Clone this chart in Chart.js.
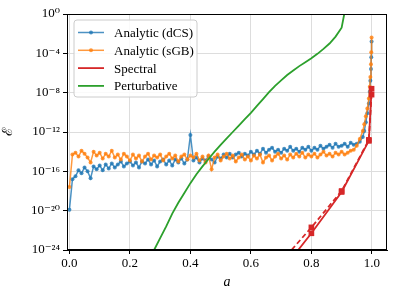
<!DOCTYPE html>
<html>
<head>
<meta charset="utf-8">
<script src="https://cdn.jsdelivr.net/npm/chart.js"></script>
<style>
body { margin: 0; background: #fff; }
#wrap { width: 396px; height: 297px; }
</style>
</head>
<body>
<div id="wrap"><canvas id="chart"></canvas></div>
<script>
// spin a values shared by both analytic runs
const aGrid = [0.00,0.01,0.02,0.03,0.04,0.05,0.06,0.07,0.08,0.09,
  0.10,0.11,0.12,0.13,0.14,0.15,0.16,0.17,0.18,0.19,
  0.20,0.21,0.22,0.23,0.24,0.25,0.26,0.27,0.28,0.29,
  0.30,0.31,0.32,0.33,0.34,0.35,0.36,0.37,0.38,0.39,
  0.40,0.41,0.42,0.43,0.44,0.45,0.46,0.47,0.48,0.49,
  0.50,0.51,0.52,0.53,0.54,0.55,0.56,0.57,0.58,0.59,
  0.60,0.61,0.62,0.63,0.64,0.65,0.66,0.67,0.68,0.69,
  0.70,0.71,0.72,0.73,0.74,0.75,0.76,0.77,0.78,0.79,
  0.80,0.81,0.82,0.83,0.84,0.85,0.86,0.87,0.88,0.89,
  0.90,0.91,0.92,0.93,0.94,0.95,0.96,0.97,0.975,0.98,
  0.985,0.99,0.993,0.995,0.997,0.998,0.999];

// log10 of the error
const dcsLog = [-19.9,-16.8,-16.5,-15.9,-16.2,-15.6,-16.0,-16.7,-15.5,-15.8,
  -15.4,-15.9,-15.3,-15.7,-15.2,-15.6,-15.3,-15.0,-15.5,-15.2,
  -15.0,-15.4,-15.1,-15.6,-15.0,-15.2,-14.8,-15.3,-14.9,-15.5,
  -15.0,-14.8,-15.3,-14.9,-15.4,-14.8,-15.1,-14.7,-15.2,-14.8,
  -12.3,-14.9,-14.6,-15.1,-14.7,-14.9,-14.5,-14.8,-15.1,-14.5,
  -14.7,-14.3,-14.6,-14.2,-14.6,-14.3,-14.1,-14.5,-14.2,-14.4,
  -14.0,-14.3,-13.9,-14.2,-13.7,-14.1,-13.8,-13.6,-14.0,-13.8,
  -14.1,-13.7,-13.9,-13.5,-13.9,-13.7,-14.0,-13.6,-13.8,-13.5,
  -13.9,-13.6,-13.8,-13.4,-13.7,-13.5,-13.3,-13.6,-13.2,-13.5,
  -13.4,-13.2,-13.5,-13.1,-13.3,-13.2,-13.0,-12.5,-11.9,-11.0,
  -10.1,-9.1,-7.9,-6.8,-5.6,-4.4,-2.8];

const sgbLog = [-17.6,-14.3,-14.1,-14.5,-13.9,-14.2,-14.6,-15.1,-14.0,-14.4,
  -14.1,-14.7,-14.2,-14.5,-13.9,-14.6,-14.3,-14.8,-14.2,-14.5,
  -14.9,-14.3,-14.7,-14.4,-15.0,-14.5,-14.2,-14.8,-14.4,-14.6,
  -14.3,-14.9,-14.5,-14.2,-14.7,-14.4,-15.0,-14.5,-14.3,-14.8,
  -14.4,-14.6,-14.2,-14.9,-14.5,-15.1,-14.4,-15.8,-14.6,-14.3,
  -14.9,-14.5,-14.2,-14.7,-14.4,-15.0,-14.6,-14.3,-14.8,-14.5,
  -14.9,-14.4,-14.7,-14.3,-15.1,-14.6,-14.4,-14.9,-14.5,-14.2,
  -14.7,-14.4,-14.8,-14.3,-14.6,-14.2,-14.5,-14.1,-14.6,-14.3,
  -14.5,-14.2,-14.6,-14.3,-14.0,-14.4,-14.2,-14.5,-14.1,-14.3,
  -14.0,-14.3,-14.1,-13.9,-13.8,-13.4,-12.7,-11.9,-11.2,-10.4,
  -9.6,-8.6,-7.4,-6.4,-5.1,-3.9,-2.4];

const aSpec = [0.7, 0.8, 0.9, 0.99, 0.999];
const specLog = [-26.2, -22.3, -18.1, -12.9, -7.6];
const specDashLog = [-25.2, -21.7, -18.0, -12.8, -8.2];

const aPert = [0.26,0.28,0.30,0.32,0.34,0.36,0.38,0.40,0.42,0.44,
  0.46,0.48,0.50,0.52,0.54,0.56,0.58,0.60,0.62,0.64,
  0.66,0.68,0.70,0.72,0.74,0.76,0.78,0.80,0.82,0.84,
  0.86,0.88,0.90,0.91];
const pertLog = [-25.4,-24.0,-22.8,-21.6,-20.3,-19.2,-18.2,-17.2,-16.3,-15.5,
  -14.75,-14.0,-13.3,-12.65,-12.0,-11.35,-10.7,-10.05,-9.35,-8.65,
  -7.95,-7.3,-6.75,-6.2,-5.75,-5.3,-4.9,-4.5,-4.05,-3.55,
  -3.0,-2.3,-1.4,0.2];

const xTicks = [0, 0.2, 0.4, 0.6, 0.8, 1.0];
const yTicks = [1e-24, 1e-20, 1e-16, 1e-12, 1e-8, 1e-4, 1e0];

const pts = (xs, logs) => xs.map((x, i) => ({ x: x, y: Math.pow(10, logs[i]) }));

const sup = { '-': '\u207B', '0': '\u2070', '1': '\u00B9', '2': '\u00B2', '3': '\u00B3',
  '4': '\u2074', '5': '\u2075', '6': '\u2076', '7': '\u2077', '8': '\u2078', '9': '\u2079' };
const powLabel = v => '10' + String(Math.round(Math.log10(v))).split('').map(c => sup[c]).join('');

const FONT = "'Liberation Serif', 'DejaVu Serif', serif";

// legend drawn inside the axes, top left
const insetLegend = {
  id: 'insetLegend',
  afterDatasetsDraw(chart) {
    const ctx = chart.ctx;
    const ca = chart.chartArea;
    const items = chart.data.datasets.filter(d => d.inLegend);
    const x0 = ca.left + 7, y0 = ca.top + 6, w = 123, h = 77;
    ctx.save();
    ctx.beginPath();
    ctx.roundRect(x0, y0, w, h, 3);
    ctx.fillStyle = 'rgba(255,255,255,0.85)';
    ctx.fill();
    ctx.strokeStyle = '#cccccc';
    ctx.lineWidth = 1;
    ctx.stroke();
    ctx.font = '13px ' + FONT;
    ctx.textBaseline = 'middle';
    items.forEach((d, i) => {
      const y = y0 + 12.5 + i * 17.8;
      ctx.strokeStyle = d.borderColor;
      ctx.lineWidth = d.borderWidth;
      ctx.beginPath();
      ctx.moveTo(x0 + 4, y);
      ctx.lineTo(x0 + 30, y);
      ctx.stroke();
      if (d.legendDot) {
        ctx.fillStyle = d.borderColor;
        ctx.beginPath();
        ctx.arc(x0 + 17, y, 2, 0, Math.PI * 2);
        ctx.fill();
      }
      ctx.fillStyle = '#000';
      ctx.fillText(d.label, x0 + 40, y + 1);
    });
    ctx.restore();
  },
  afterDraw(chart) {
    const ctx = chart.ctx;
    const ca = chart.chartArea;
    ctx.save();
    ctx.strokeStyle = '#000';
    ctx.lineWidth = 1;
    ctx.strokeRect(ca.left + 0.5, ca.top + 0.5, ca.right - ca.left - 1, ca.bottom - ca.top - 1);
    ctx.restore();
  }
};

new Chart(document.getElementById('chart'), {
  type: 'line',
  data: {
    datasets: [
      {
        label: 'Analytic (dCS)', inLegend: true, legendDot: true,
        data: pts(aGrid, dcsLog),
        borderColor: 'rgba(31,119,180,0.8)', backgroundColor: 'rgba(31,119,180,0.8)',
        borderWidth: 1.5, pointRadius: 2, pointBorderWidth: 0, order: 4
      },
      {
        label: 'Analytic (sGB)', inLegend: true, legendDot: true,
        data: pts(aGrid, sgbLog),
        borderColor: 'rgba(255,127,14,0.8)', backgroundColor: 'rgba(255,127,14,0.8)',
        borderWidth: 1.5, pointRadius: 2, pointBorderWidth: 0, order: 3
      },
      {
        label: 'Spectral', inLegend: true,
        data: pts(aSpec, specLog),
        borderColor: '#d62728', backgroundColor: '#d62728',
        borderWidth: 1.8, pointStyle: 'rect', pointRadius: 4, pointBorderWidth: 0, order: 1
      },
      {
        label: 'Spectral (dashed)',
        data: pts(aSpec, specDashLog),
        borderColor: '#d62728', backgroundColor: '#d62728', borderDash: [5, 3],
        borderWidth: 1.8, pointStyle: 'rect', pointRadius: 4, pointBorderWidth: 0, order: 1
      },
      {
        label: 'Perturbative', inLegend: true,
        data: pts(aPert, pertLog),
        borderColor: '#2ca02c', backgroundColor: '#2ca02c',
        borderWidth: 1.8, pointRadius: 0, order: 2
      }
    ]
  },
  options: {
    responsive: true,
    maintainAspectRatio: false,
    animation: false,
    layout: { padding: { top: 14, right: 9, left: 0, bottom: 0 } },
    plugins: { legend: { display: false }, tooltip: { enabled: false } },
    scales: {
      x: {
        type: 'linear', min: -0.008, max: 1.05,
        afterBuildTicks: s => { s.ticks = xTicks.map(v => ({ value: v })); },
        afterFit: s => { s.height = 47; },
        grid: { color: '#dddddd', tickColor: '#000', tickLength: 4 },
        border: { color: '#000', width: 1 },
        ticks: { color: '#000', font: { family: FONT, size: 13 }, padding: 2, maxRotation: 0,
          callback: v => v.toFixed(1) },
        title: { display: true, text: 'a', color: '#000',
          font: { family: FONT, size: 14, style: 'italic' }, padding: { top: 0, bottom: 6 } }
      },
      y: {
        type: 'logarithmic', min: 1e-24, max: 1,
        afterBuildTicks: s => { s.ticks = yTicks.map(v => ({ value: v })); },
        afterFit: s => { s.width = 67; },
        grid: { color: '#dddddd', tickColor: '#000', tickLength: 4 },
        border: { color: '#000', width: 1 },
        ticks: { color: '#000', font: { family: FONT, size: 13 }, padding: 3,
          callback: v => powLabel(v) },
        title: { display: true, text: '\u2130', color: '#000',
          font: { family: FONT, size: 14 }, padding: { top: 0, bottom: 2 } }
      }
    }
  },
  plugins: [insetLegend]
});
</script>
</body>
</html>
